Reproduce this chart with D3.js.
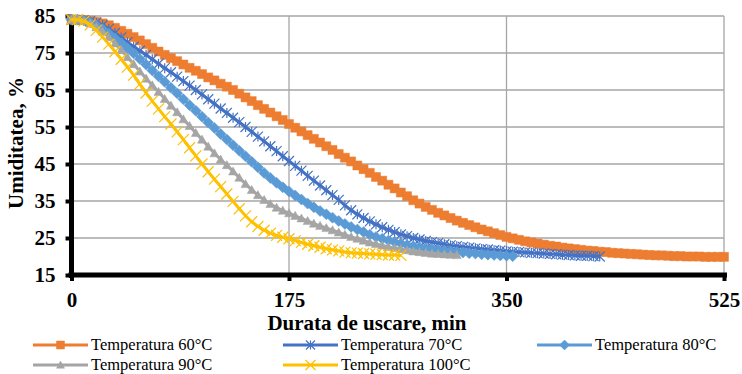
<!DOCTYPE html>
<html><head><meta charset="utf-8">
<script src="https://cdn.jsdelivr.net/npm/d3@7"></script>
<style>body{margin:0;background:#fff}svg{display:block}text{font-family:"Liberation Serif","Times New Roman",serif}</style>
</head><body>
<svg id="c" width="742" height="374"></svg>
<script>
const step = 5;
const xTicks = [0, 175, 350, 525];
const yTicks = [15, 25, 35, 45, 55, 65, 75, 85];
const seriesNames = ["Temperatura 60°C","Temperatura 70°C","Temperatura 80°C","Temperatura 90°C","Temperatura 100°C"];
const colors = ["#ED7D31","#4472C4","#5B9BD5","#A5A5A5","#FFC000"];
const markers = ["square","star","diamond","triangle","cross"];
const xTitle = "Durata de uscare, min";
const yTitle = "Umiditatea, %";

const t60 = [84.0,84.0,83.9,83.7,83.4,83.0,82.5,81.8,81.0,80.2,79.3,78.4,77.4,76.4,75.4,74.5,73.6,72.8,71.9,71.0,70.2,69.3,68.4,67.6,66.7,65.9,65.0,64.0,63.0,62.0,60.9,59.9,58.9,57.9,56.9,55.8,54.8,53.8,52.8,51.8,50.8,49.8,48.8,47.7,46.7,45.7,44.6,43.6,42.6,41.5,40.5,39.4,38.4,37.3,36.3,35.2,34.3,33.4,32.6,31.8,31.1,30.4,29.7,29.1,28.5,27.9,27.3,26.8,26.3,25.8,25.3,24.9,24.5,24.1,23.8,23.5,23.2,22.9,22.7,22.4,22.2,22.0,21.8,21.6,21.5,21.3,21.2,21.0,20.9,20.8,20.7,20.6,20.5,20.4,20.3,20.3,20.2,20.1,20.1,20.0,20.0,20.0,19.9,19.9,19.9,19.9];
const t70 = [84.0,84.0,83.9,83.6,83.2,82.5,81.5,80.4,79.2,77.9,76.7,75.6,74.5,73.3,72.1,70.9,69.8,68.6,67.4,66.2,65.0,63.8,62.5,61.3,60.0,58.8,57.5,56.3,55.0,53.7,52.4,51.1,49.8,48.5,47.1,45.8,44.5,43.2,41.8,40.5,39.2,37.9,36.6,35.3,33.8,32.5,31.4,30.4,29.5,28.7,27.9,27.2,26.6,26.0,25.5,25.0,24.6,24.2,23.9,23.6,23.3,23.0,22.8,22.6,22.4,22.2,22.0,21.9,21.7,21.6,21.4,21.3,21.2,21.1,21.0,20.9,20.8,20.7,20.6,20.5,20.4,20.3,20.2,20.2,20.1,20.0];
const t80 = [84.0,84.0,83.8,83.3,82.5,81.5,80.3,79.0,77.7,76.3,74.9,73.4,71.9,70.3,68.7,67.2,65.6,64.1,62.5,60.9,59.4,57.8,56.2,54.7,53.1,51.6,50.1,48.6,47.1,45.6,44.1,42.6,41.2,39.9,38.7,37.6,36.5,35.4,34.3,33.3,32.3,31.4,30.5,29.6,28.8,28.0,27.3,26.6,25.9,25.3,24.8,24.3,23.9,23.5,23.1,22.8,22.5,22.2,22.0,21.8,21.6,21.4,21.2,21.1,20.9,20.8,20.6,20.5,20.4,20.3,20.2,20.1];
const t90 = [84.0,84.0,83.7,83.0,82.0,80.8,79.3,77.6,75.8,73.9,72.0,70.0,68.1,66.3,64.5,62.6,60.8,59.0,57.1,55.3,53.4,51.6,49.7,47.9,46.2,44.7,43.0,41.3,39.6,38.0,36.6,35.3,34.2,33.2,32.4,31.7,31.0,30.3,29.6,28.9,28.3,27.7,27.1,26.5,25.9,25.3,24.8,24.3,23.8,23.4,23.0,22.6,22.3,22.0,21.7,21.4,21.2,21.0,20.8,20.7,20.6,20.5,20.4];
const t100 = [84.0,84.0,83.6,82.6,81.1,79.3,77.4,75.4,73.3,71.2,69.0,66.6,64.2,62.0,59.9,57.8,55.8,53.7,51.6,49.4,47.2,45.0,42.9,40.9,38.9,36.9,34.9,32.9,31.0,29.4,28.1,27.1,26.3,25.7,25.2,24.8,24.3,23.8,23.3,22.9,22.5,22.1,21.8,21.5,21.2,21.0,20.9,20.8,20.7,20.6,20.5,20.4,20.4,20.3];
const seriesValues = [t60, t70, t80, t90, t100];

const svg = d3.select("#c");
const x = d3.scaleLinear().domain([0, 525]).range([71.5, 724]);
const y = d3.scaleLinear().domain([15, 85]).range([275, 16]);
const serif = "Liberation Serif, Times New Roman, serif";

// grid
svg.append("g").selectAll("line").data(yTicks.filter(v => v > 15)).join("line")
  .attr("x1", x(0)).attr("x2", x(525)).attr("y1", d => y(d)).attr("y2", d => y(d))
  .attr("stroke", "#a6a6a6").attr("stroke-width", 1.3);
svg.append("g").selectAll("line").data(xTicks.filter(v => v > 0)).join("line")
  .attr("x1", d => x(d)).attr("x2", d => x(d)).attr("y1", y(85)).attr("y2", y(15))
  .attr("stroke", "#a6a6a6").attr("stroke-width", 1.3);

// axes
const yAxis = svg.append("g").attr("transform", `translate(${x(0)},0)`)
  .call(d3.axisLeft(y).tickValues(yTicks).tickSize(6).tickPadding(10));
const xAxis = svg.append("g").attr("transform", `translate(0,${y(15)})`)
  .call(d3.axisBottom(x).tickValues(xTicks).tickSize(6).tickPadding(11));
[yAxis, xAxis].forEach(a => {
  a.attr("font-family", null);
  a.select(".domain").remove();
  a.selectAll(".tick line").attr("stroke", "#000").attr("stroke-width", 4);
  a.selectAll(".tick text").style("font-family", serif).attr("font-weight", "bold")
    .attr("font-size", 21).attr("fill", "#000");
});
svg.append("line").attr("x1", x(0)).attr("x2", x(0)).attr("y1", y(85) - 1).attr("y2", y(15) + 3)
  .attr("stroke", "#000").attr("stroke-width", 5);
svg.append("line").attr("x1", x(0) - 3).attr("x2", x(525) + 3).attr("y1", y(15)).attr("y2", y(15))
  .attr("stroke", "#000").attr("stroke-width", 5);

// marker drawing
function markerPath(kind, s) {
  const h = s / 2;
  if (kind === "square") return `M${-h},${-h}H${h}V${h}H${-h}Z`;
  if (kind === "diamond") return `M0,${-h}L${h},0L0,${h}L${-h},0Z`;
  if (kind === "triangle") return `M0,${-h}L${h},${h * 0.8}L${-h},${h * 0.8}Z`;
  if (kind === "star") return `M${-h},${-h}L${h},${h}M${-h},${h}L${h},${-h}M0,${-h}V${h}`;
  return `M${-h},${-h}L${h},${h}M${-h},${h}L${h},${-h}`;
}
const mSize = [9, 10, 11, 9, 11];
const filled = [true, false, true, true, false];

const line = d3.line().x(d => x(d[0])).y(d => y(d[1]));
seriesValues.forEach((vals, i) => {
  const pts = vals.map((v, k) => [k * step, v]);
  const g = svg.append("g");
  g.append("path").attr("d", line(pts)).attr("fill", "none")
    .attr("stroke", colors[i]).attr("stroke-width", 3).attr("stroke-linejoin", "round");
  g.selectAll("path.m").data(pts).join("path").attr("class", "m")
    .attr("transform", d => `translate(${x(d[0])},${y(d[1])})`)
    .attr("d", markerPath(markers[i], mSize[i]))
    .attr("fill", filled[i] ? colors[i] : "none")
    .attr("stroke", colors[i]).attr("stroke-width", filled[i] ? 0.5 : 1.2);
});

// titles
svg.append("text").attr("x", 367).attr("y", 330).attr("text-anchor", "middle")
  .style("font-family", serif).attr("font-weight", "bold").attr("font-size", 21).text(xTitle);
svg.append("text").attr("transform", "translate(23,143) rotate(-90)").attr("text-anchor", "middle")
  .style("font-family", serif).attr("font-weight", "bold").attr("font-size", 21).text(yTitle);

// legend
const legPos = [[33, 345], [283, 345], [537, 345], [33, 365], [283, 365]];
seriesNames.forEach((name, i) => {
  const [lx, ly] = legPos[i];
  const g = svg.append("g").attr("transform", `translate(${lx},${ly})`);
  g.append("line").attr("x1", 0).attr("x2", 55).attr("stroke", colors[i]).attr("stroke-width", 3);
  g.append("path").attr("transform", "translate(27.5,0)").attr("d", markerPath(markers[i], mSize[i] - 1))
    .attr("fill", filled[i] ? colors[i] : "none").attr("stroke", colors[i]).attr("stroke-width", filled[i] ? 0.5 : 1.2);
  g.append("text").attr("x", 58).attr("y", 5).style("font-family", serif).attr("font-size", 16.5).text(name);
});
</script>
</body></html>
